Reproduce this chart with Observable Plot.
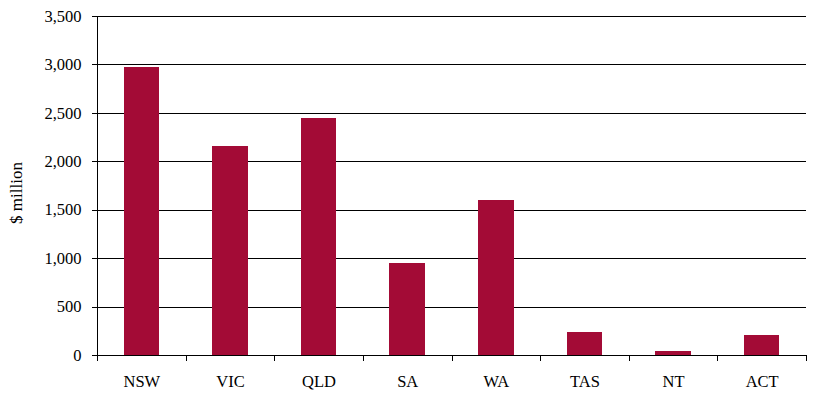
<!DOCTYPE html>
<html>
<head>
<meta charset="utf-8">
<script src="https://cdn.jsdelivr.net/npm/d3@7"></script>
<script src="https://cdn.jsdelivr.net/npm/@observablehq/plot@0.6"></script>
<style>
  html, body { margin: 0; padding: 0; background: #fff; }
</style>
</head>
<body>
<div id="chart"></div>
<script>
const states = ["NSW", "VIC", "QLD", "SA", "WA", "TAS", "NT", "ACT"];
const values = [2975, 2155, 2445, 950, 1605, 237, 44, 206];
const yTicks = [0, 500, 1000, 1500, 2000, 2500, 3000, 3500];
const yLabel = "$ million";

const data = states.map((s, i) => ({state: s, i, value: values[i]}));
const boundaries = d3.range(states.length + 1);
const centers = states.map((s, i) => i + 0.5);

const chart = Plot.plot({
  width: 819,
  height: 395,
  marginLeft: 97,
  marginRight: 13,
  marginTop: 16,
  marginBottom: 40,
  style: {fontFamily: "'Liberation Serif', 'Times New Roman', serif", fontSize: "16.5px", color: "#000", background: "#fff"},
  x: {type: "linear", domain: [0, states.length], axis: null},
  y: {domain: [0, 3500], axis: null},
  marks: [
    Plot.ruleY(yTicks, {stroke: "#000", strokeWidth: 1, shapeRendering: "crispEdges"}),
    Plot.rectY(data, {x1: d => d.i + 0.3, x2: d => d.i + 0.7, y: "value", fill: "#A30B36", shapeRendering: "crispEdges"}),
    Plot.ruleX([0], {y1: 0, y2: 3500, stroke: "#000", shapeRendering: "crispEdges"}),
    Plot.axisY({ticks: yTicks, tickFormat: d3.format(","), tickSize: 5, tickPadding: 11, label: null, fontSize: 16.5, shapeRendering: "crispEdges"}),
    Plot.axisX({ticks: boundaries, tickSize: 6, tickFormat: () => "", label: null, shapeRendering: "crispEdges"}),
    Plot.axisX({ticks: centers, tickFormat: d => states[Math.floor(d)], tickSize: 0, tickPadding: 20, label: null, fontSize: 16.5}),
    Plot.text([yLabel], {frameAnchor: "left", textAnchor: "middle", lineAnchor: "middle", text: d => d, rotate: -90, dx: -81, dy: 7, fontSize: 17})
  ]
});
document.getElementById("chart").appendChild(chart);
</script>
</body>
</html>
